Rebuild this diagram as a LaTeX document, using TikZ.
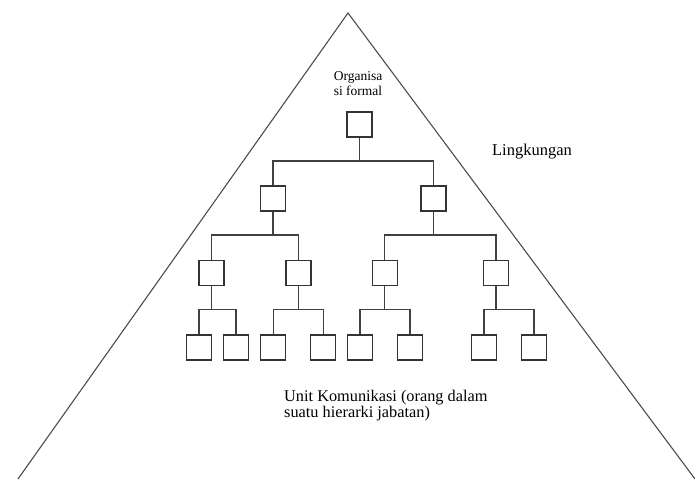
\documentclass[tikz,border=0pt]{standalone}
\usepackage{fontspec}
\setmainfont{Liberation Serif}
\begin{document}
\begin{tikzpicture}[x=1pt,y=-1pt,
  box/.style={draw=black!80,line width=1.2pt,minimum width=25pt,minimum height=25pt,inner sep=0pt,fill=white},
  conn/.style={draw=black!75,line width=1.1pt},
  edge/.style={draw=black!70,line width=1.1pt},
  lbl/.style={font=\fontsize{13.5}{15}\selectfont,align=center,inner sep=0pt}]
\useasboundingbox (0,0) rectangle (695,479);
% triangle (environment)
\coordinate (apex) at (348,13);
\coordinate (bl) at (18,479);
\coordinate (br) at (695,479);
\draw[edge] (bl) -- (apex) -- (br);
% bus levels
\coordinate (y1) at (0,161);
\coordinate (y2) at (0,235);
\coordinate (y3) at (0,309.3);
% boxes
\node[box] (r) at (359.5,124.5) {};
\node[box] (a) at (273,198.5) {};
\node[box] (b) at (433.5,198.5) {};
\node[box] (a1) at (211.5,273) {};
\node[box] (a2) at (298.5,273) {};
\node[box] (b1) at (384.7,273) {};
\node[box] (b2) at (496,273) {};
\node[box] (a1l) at (199,347.5) {};
\node[box] (a1r) at (236,347.5) {};
\node[box] (a2l) at (273.3,347.5) {};
\node[box] (a2r) at (323.3,347.5) {};
\node[box] (b1l) at (360,347.5) {};
\node[box] (b1r) at (410,347.5) {};
\node[box] (b2l) at (484,347.5) {};
\node[box] (b2r) at (534,347.5) {};
% connectors
\draw[conn] (r.south) -- (r |- y1);
\draw[conn] (a.north) -- (a |- y1) -- (b |- y1) -- (b.north);
\draw[conn] (a.south) -- (a |- y2);
\draw[conn] (a1.north) -- (a1 |- y2) -- (a2 |- y2) -- (a2.north);
\draw[conn] (b.south) -- (b |- y2);
\draw[conn] (b1.north) -- (b1 |- y2) -- (b2 |- y2) -- (b2.north);
\draw[conn] (a1.south) -- (a1 |- y3);
\draw[conn] (a1l.north) -- (a1l |- y3) -- (a1r |- y3) -- (a1r.north);
\draw[conn] (a2.south) -- (a2 |- y3);
\draw[conn] (a2l.north) -- (a2l |- y3) -- (a2r |- y3) -- (a2r.north);
\draw[conn] (b1.south) -- (b1 |- y3);
\draw[conn] (b1l.north) -- (b1l |- y3) -- (b1r |- y3) -- (b1r.north);
\draw[conn] (b2.south) -- (b2 |- y3);
\draw[conn] (b2l.north) -- (b2l |- y3) -- (b2r |- y3) -- (b2r.north);
% labels
\node[lbl] (org) at (358,83.5) {Organisa\\si formal};
\node[lbl,font=\fontsize{16.5}{18}\selectfont] (env) at (532,152) {Lingkungan};
\node[lbl,font=\fontsize{16.3}{16}\selectfont,align=left,anchor=north west] (unit) at (284,390) {Unit Komunikasi (orang dalam\\suatu hierarki jabatan)};
\end{tikzpicture}
\end{document}
